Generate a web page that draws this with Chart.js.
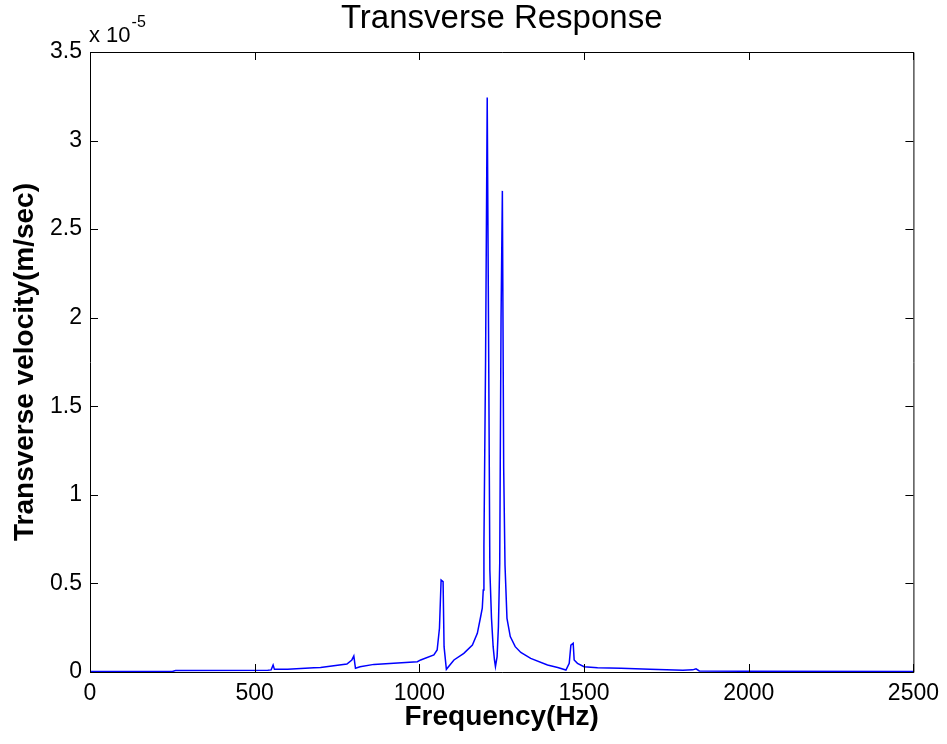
<!DOCTYPE html>
<html>
<head>
<meta charset="utf-8">
<title>Transverse Response</title>
<script src="https://cdn.jsdelivr.net/npm/chart.js@4/dist/chart.umd.min.js"></script>
<style>
  html, body { margin: 0; padding: 0; background: #fff; }
  canvas { display: block; }
</style>
</head>
<body>
<canvas id="respChart" width="947" height="744"></canvas>
<script>
// Frequency sweep (Hz)
const freq = [
    0, 250, 260, 540, 550, 556, 560, 600, 680, 700,
    780, 795, 801, 806, 820, 862, 922, 994, 1004, 1044,
    1054, 1061, 1066, 1072, 1075, 1082, 1105, 1135, 1161, 1176,
    1186, 1191, 1194, 1196, 1201, 1206, 1210, 1214, 1219, 1224,
    1228, 1231, 1236, 1240, 1244, 1248, 1252, 1256, 1260, 1266,
    1276, 1291, 1308, 1338, 1389, 1420, 1445, 1455, 1460, 1467,
    1470, 1480, 1500, 1541, 1612, 1700, 1800, 1830, 1840, 1850,
    2000, 2500
];

// Transverse velocity, in units of 1e-5 m/sec
const velocity = [
    0.003, 0.003, 0.008, 0.010, 0.012, 0.040, 0.015, 0.016, 0.024, 0.026,
    0.045, 0.068, 0.090, 0.021, 0.030, 0.043, 0.049, 0.058, 0.068, 0.096,
    0.124, 0.247, 0.519, 0.510, 0.143, 0.015, 0.068, 0.105, 0.152, 0.218,
    0.312, 0.360, 0.463, 0.708, 1.756, 3.243, 1.944, 0.576, 0.303, 0.143,
    0.068, 0.030, 0.087, 0.256, 0.614, 1.997, 2.716, 1.150, 0.604, 0.303,
    0.200, 0.143, 0.110, 0.077, 0.040, 0.025, 0.011, 0.049, 0.152, 0.162,
    0.068, 0.049, 0.030, 0.024, 0.021, 0.015, 0.010, 0.012, 0.018, 0.006,
    0.004, 0.003
];

const xTicks = [0, 500, 1000, 1500, 2000, 2500];
const yTicks = [0, 0.5, 1, 1.5, 2, 2.5, 3, 3.5];

const FONT = "'Liberation Sans', Arial, Helvetica, sans-serif";

// box around the axes, inward tick marks, title and exponent label
const matlabAxes = {
    id: 'matlabAxes',
    afterDatasetsDraw(chart) {
        const { ctx, chartArea: a, scales } = chart;
        const len = 8;
        ctx.save();
        ctx.strokeStyle = '#000';
        ctx.lineWidth = 1;
        ctx.beginPath();
        ctx.rect(a.left + 0.5, a.top + 0.5, a.right - a.left, a.bottom - a.top);
        xTicks.forEach(v => {
            const px = Math.round(scales.x.getPixelForValue(v)) + 0.5;
            ctx.moveTo(px, a.bottom); ctx.lineTo(px, a.bottom - len);
            ctx.moveTo(px, a.top); ctx.lineTo(px, a.top + len);
        });
        yTicks.forEach(v => {
            const py = Math.round(scales.y.getPixelForValue(v)) + 0.5;
            ctx.moveTo(a.left, py); ctx.lineTo(a.left + len, py);
            ctx.moveTo(a.right, py); ctx.lineTo(a.right - len, py);
        });
        ctx.stroke();

        // title
        ctx.fillStyle = '#000';
        ctx.font = '33px ' + FONT;
        ctx.textAlign = 'center';
        ctx.textBaseline = 'middle';
        ctx.fillText('Transverse Response', (a.left + a.right) / 2, 19);

        // x 10^-5 multiplier
        ctx.textAlign = 'left';
        ctx.textBaseline = 'alphabetic';
        ctx.font = '22px ' + FONT;
        ctx.fillText('x 10', a.left - 1, 42);
        const w = ctx.measureText('x 10').width;
        ctx.font = '16px ' + FONT;
        ctx.fillText('-5', a.left + w, 27);
        ctx.restore();
    }
};

const ctx = document.getElementById('respChart').getContext('2d');
const respChart = new Chart(ctx, {
    type: 'line',
    data: {
        datasets: [{
            data: freq.map((f, i) => ({ x: f, y: velocity[i] })),
            borderColor: '#0000ff',
            borderWidth: 1.5,
            pointRadius: 0,
            tension: 0,
            fill: false
        }]
    },
    options: {
        responsive: false,
        animation: false,
        layout: { padding: { top: 52, right: 33, left: 0, bottom: 0 } },
        plugins: {
            legend: { display: false },
            title: { display: false },
            tooltip: { enabled: false }
        },
        scales: {
            x: {
                type: 'linear',
                min: 0,
                max: 2500,
                afterBuildTicks: s => { s.ticks = xTicks.map(v => ({ value: v })); },
                afterFit: s => { s.height = 72; },
                grid: { display: false, drawTicks: false },
                border: { display: false },
                ticks: {
                    color: '#000',
                    padding: 8,
                    maxRotation: 0,
                    callback: v => String(v),
                    font: { family: FONT, size: 23 }
                },
                title: {
                    display: true,
                    text: 'Frequency(Hz)',
                    color: '#000',
                    padding: { top: 0, bottom: 10 },
                    font: { family: FONT, size: 28, weight: 'bold' }
                }
            },
            y: {
                min: 0,
                max: 3.5,
                afterBuildTicks: s => { s.ticks = yTicks.map(v => ({ value: v })); },
                afterFit: s => { s.width = 90; },
                grid: { display: false, drawTicks: false },
                border: { display: false },
                ticks: {
                    color: '#000',
                    padding: 8,
                    callback: v => String(v),
                    font: { family: FONT, size: 23 }
                },
                title: {
                    display: true,
                    text: 'Transverse velocity(m/sec)',
                    color: '#000',
                    padding: { top: 8, bottom: 0 },
                    font: { family: FONT, size: 28, weight: 'bold' }
                }
            }
        }
    },
    plugins: [matlabAxes]
});
</script>
</body>
</html>
